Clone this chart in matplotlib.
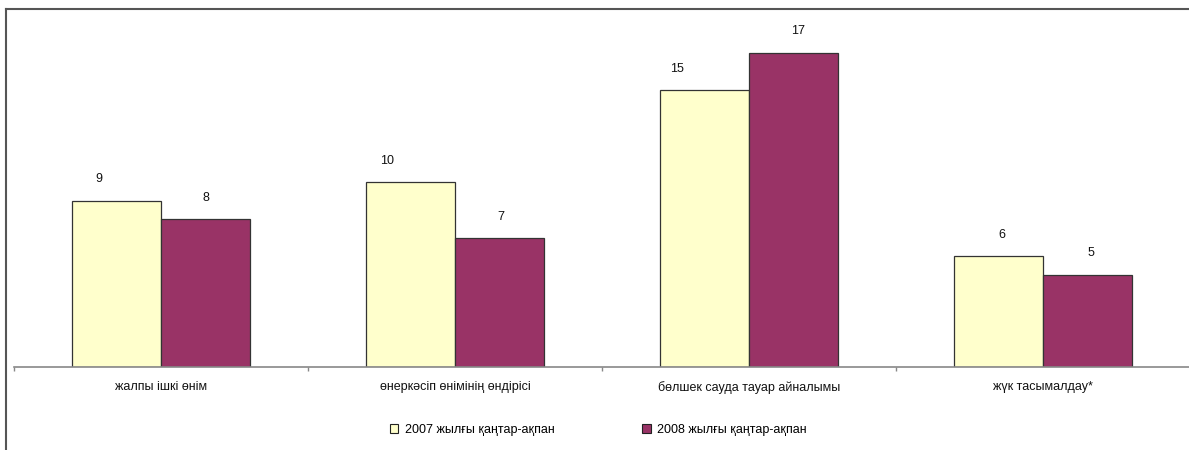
import matplotlib
matplotlib.use("Agg")
import matplotlib.pyplot as plt
import numpy as np
from matplotlib.patches import Patch
from matplotlib.lines import Line2D

categories = ["жалпы ішкі өнім", "өнеркәсіп өнімінің өндірісі",
              "бөлшек сауда тауар айналымы", "жүк тасымалдау*"]
series_names = ["2007 жылғы қаңтар-ақпан", "2008 жылғы қаңтар-ақпан"]
values_2007 = [9, 10, 15, 6]
values_2008 = [8, 7, 17, 5]

# label nudges (pixels) mimicking the original placement
label_dx_2007 = [-18, -23, -28, 3]
label_dx_2008 = [0, 1, 5, 3]

colors = ["#FFFFCC", "#993366"]

plt.rcParams['font.family'] = ['Liberation Sans', 'DejaVu Sans']

W, H = 1189, 450
fig = plt.figure(figsize=(W / 100, H / 100), dpi=100)
fig.patch.set_facecolor("white")

ax_left, ax_right = 14, 1190
ax_base, ax_top = 367, 34
ax = fig.add_axes([ax_left / W, (H - ax_base) / H,
                   (ax_right - ax_left) / W, (ax_base - ax_top) / H])

x = np.arange(len(categories))
bw = 0.3027
b1 = ax.bar(x - bw / 2, values_2007, bw, color=colors[0], edgecolor="#333333", linewidth=0.9, zorder=2)
b2 = ax.bar(x + bw / 2, values_2008, bw, color=colors[1], edgecolor="#333333", linewidth=0.9, zorder=2)

for bars, vals, dxs in ((b1, values_2007, label_dx_2007), (b2, values_2008, label_dx_2008)):
    for rect, v, dx in zip(bars, vals, dxs):
        ax.annotate(f"{v}", (rect.get_x() + rect.get_width() / 2, rect.get_height()),
                    xytext=(dx * 0.72, 21 * 0.72), textcoords="offset points",
                    ha="center", va="center", fontsize=9, color="#111111")

ax.set_xlim(-0.5, len(categories) - 0.5)
ax.set_ylim(0, 18)
for s in ("top", "right", "left"):
    ax.spines[s].set_visible(False)
ax.spines["bottom"].set_color("#888888")
ax.spines["bottom"].set_linewidth(1.2)
ax.set_yticks([])
ax.set_xticks(x)
ax.set_xticklabels(categories, fontsize=9, color="#111111")
ax.tick_params(axis="x", which="major", length=0, pad=10)
ax.set_xticks(np.arange(-0.5, len(categories)), minor=True)
ax.tick_params(axis="x", which="minor", length=3, width=1, color="#888888", direction="out")
ax.set_facecolor("none")

handles = [Patch(facecolor=colors[0], edgecolor="#222222", linewidth=0.8),
           Patch(facecolor=colors[1], edgecolor="#222222", linewidth=0.8)]
fig.legend(handles, series_names, loc="center", bbox_to_anchor=(598 / W, (H - 430) / H),
           ncol=2, frameon=False, fontsize=9, handlelength=0.7, handleheight=0.7,
           handletextpad=0.5, columnspacing=7.0)

# partial chart frame (top and left edges)
fig.add_artist(Line2D([6 / W, 6 / W], [0, (H - 8.5) / H], transform=fig.transFigure,
                      color="#555555", linewidth=1.5))
fig.add_artist(Line2D([6 / W, 1], [(H - 8.5) / H, (H - 8.5) / H], transform=fig.transFigure,
                      color="#555555", linewidth=1.5))

fig.savefig("out.png", dpi=100, facecolor="white")
